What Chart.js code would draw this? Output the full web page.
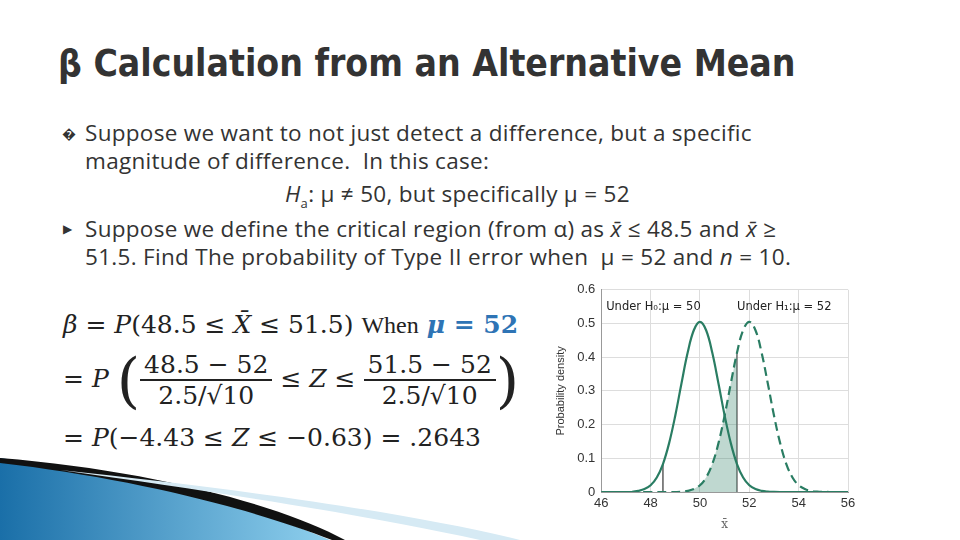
<!DOCTYPE html>
<html><head><meta charset="utf-8">
<script src="https://cdn.jsdelivr.net/npm/chart.js@4"></script>
<style>
body{margin:0;width:960px;height:540px;background:#fff;position:relative;overflow:hidden;font-family:"Open Sans","DejaVu Sans",sans-serif;color:#222}
.t{position:absolute;white-space:nowrap}
h1{position:absolute;left:58px;top:42px;margin:0;font-family:"DejaVu Sans Condensed","DejaVu Sans";font-stretch:condensed;font-size:37px;font-weight:bold;color:#333}
.b{font-size:22.5px;color:#333;letter-spacing:0.3px}
.m{font-family:"DejaVu Serif","Liberation Serif",serif;font-size:25px;color:#222}
.fr{display:inline-block;text-align:center;vertical-align:middle}
.fr span{display:block;padding:0 4px}
.fr .n{border-bottom:2px solid #222}
#wrap{position:absolute;left:550px;top:276px;width:310px;height:258px}
</style></head><body>
<svg width="960" height="540" style="position:absolute;left:0;top:0">
<defs><linearGradient id="g" x1="0" x2="1"><stop offset="0" stop-color="#1a6fa8"/><stop offset="1" stop-color="#8fd0ee"/></linearGradient></defs>
<path d="M0,458 C120,475 250,505 330,540 L0,540 Z" fill="url(#g)"/>
<path d="M0,458 C150,470 280,505 345,540 L332,540 C250,508 130,478 0,463 Z" fill="#111"/>
<path d="M60,470 C250,490 420,515 520,540 L480,540 C380,518 240,495 60,470 Z" fill="#d6eaf4"/>
</svg>
<h1>β Calculation from an Alternative Mean</h1>
<div class="t b" style="left:62px;top:124px;font-size:14px">�</div>
<div class="t b" style="left:85px;top:117px">Suppose we want to not just detect a difference, but a specific</div>
<div class="t b" style="left:85px;top:145px">magnitude of difference.&nbsp; In this case:</div>
<div class="t b" style="left:285px;top:178px"><i>H</i><sub style="font-size:13px">a</sub>: μ ≠ 50, but specifically μ = 52</div>
<div class="t b" style="left:63px;top:220px;font-size:12px">▶</div>
<div class="t b" style="left:85px;top:213px">Suppose we define the critical region (from α) as <i>x̄</i> ≤ 48.5 and <i>x̄</i> ≥</div>
<div class="t b" style="left:85px;top:241px">51.5. Find The probability of Type II error when&nbsp; μ = 52 and <i>n</i> = 10.</div>
<div class="t m" style="left:63px;top:310px"><i>β</i> = <i>P</i>(48.5 ≤ <i>X̄</i> ≤ 51.5) <span style="font-family:'Liberation Serif';font-size:24px">When</span> <b style="color:#2e74b5"><i>μ</i> = 52</b></div>
<div class="t m" style="left:63px;top:345px">= <i>P</i> <span style="font-size:60px;vertical-align:middle;font-weight:100">(</span><span class="fr"><span class="n">48.5 − 52</span><span>2.5/√10</span></span> ≤ <i>Z</i> ≤ <span class="fr"><span class="n">51.5 − 52</span><span>2.5/√10</span></span><span style="font-size:60px;vertical-align:middle;font-weight:100">)</span></div>
<div class="t m" style="left:63px;top:423px">= <i>P</i>(−4.43 ≤ <i>Z</i> ≤ −0.63) = .2643</div>
<div id="wrap"><canvas id="c"></canvas></div>
<script>
const xs=[46,46.25,46.5,46.75,47,47.25,47.5,47.75,48,48.25,48.5,48.75,49,49.25,49.5,49.75,50,50.25,50.5,50.75,51,51.25,51.5,51.75,52,52.25,52.5,52.75,53,53.25,53.5,53.75,54,54.25,54.5,54.75,55,55.25,55.5,55.75,56];
const h0=[0,0,0,0,0,0.0004,0.0034,0.0087,0.020,0.043,0.083,0.145,0.227,0.322,0.413,0.480,0.505,0.480,0.413,0.322,0.227,0.145,0.083,0.043,0.020,0.0087,0.0034,0.0012,0.0004,0,0,0,0,0,0,0,0,0,0,0,0];
const h1=[0,0,0,0,0,0,0,0,0,0,0,0,0,0.0004,0.0034,0.0087,0.020,0.043,0.083,0.145,0.227,0.322,0.413,0.480,0.505,0.480,0.413,0.322,0.227,0.145,0.083,0.043,0.020,0.0087,0.0034,0.0012,0.0004,0,0,0,0];
const yTicks=[0,0.1,0.2,0.3,0.4,0.5,0.6];
const critLo=48.5, critHi=51.5;
const green='#2a7d63';
const pts=a=>xs.map((x,i)=>({x,y:a[i]}));
const shade=xs.map((x,i)=>({x,y:(x>=critLo&&x<=critHi)?h1[i]:null}));
const lo=xs.indexOf(critLo), hi=xs.indexOf(critHi);
new Chart(document.getElementById('c'),{type:'line',
data:{datasets:[
{data:shade,borderWidth:0,pointRadius:0,fill:'origin',backgroundColor:'rgba(42,125,99,0.3)',spanGaps:false},
{data:pts(h0),borderColor:green,borderWidth:2.2,pointRadius:0,fill:false,tension:0.4},
{data:pts(h1),borderColor:green,borderWidth:2.2,borderDash:[9,5],pointRadius:0,fill:false,tension:0.4},
{data:[{x:critLo,y:0},{x:critLo,y:h0[lo]}],borderColor:'#333',borderWidth:1.2,pointRadius:0},
{data:[{x:critHi,y:0},{x:critHi,y:h1[hi]}],borderColor:'#777',borderWidth:1.6,pointRadius:0}
]},
options:{responsive:true,maintainAspectRatio:false,animation:false,
plugins:{legend:{display:false},tooltip:{enabled:false}},
layout:{padding:{right:12,top:4}},
scales:{
x:{type:'linear',min:46,max:56,ticks:{stepSize:2,color:'#333',font:{size:13},padding:4},grid:{color:'#ddd',drawTicks:false},border:{color:'#999'},title:{display:true,text:'x̄',font:{family:'DejaVu Serif',size:12},padding:2}},
y:{min:0,max:0.6,afterBuildTicks:s=>{s.ticks=yTicks.map(v=>({value:v}))},ticks:{color:'#333',font:{size:13},padding:6,callback:v=>v===0?'0':v},grid:{color:'#ddd',drawTicks:false},border:{color:'#999'},title:{display:true,text:'Probability density',font:{size:11},color:'#333'}}
}},
plugins:[{id:'lab',afterDraw(c){const g=c.ctx,x=c.scales.x,y=c.scales.y;g.save();g.fillStyle='#222';g.font='11.5px "DejaVu Sans"';
g.fillText('Under H₀:μ = 50',x.getPixelForValue(46.2),y.getPixelForValue(0.54));
g.fillText('Under H₁:μ = 52',x.getPixelForValue(51.5),y.getPixelForValue(0.54));g.restore();}}]
});
</script></body></html>
